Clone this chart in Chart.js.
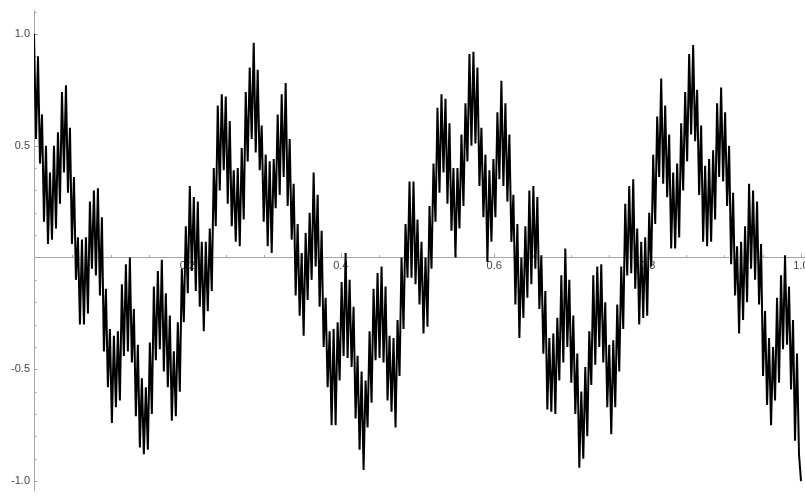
<!DOCTYPE html>
<html>
<head>
<meta charset="utf-8">
<script src="https://cdn.jsdelivr.net/npm/chart.js@4.4.1/dist/chart.umd.min.js"></script>
<style>
  html, body { margin: 0; padding: 0; background: #fff; }
  #wrap { width: 805px; height: 497px; }
</style>
</head>
<body>
<div id="wrap"><canvas id="plot"></canvas></div>
<script>
// --- Data ---
// the curve is sampled on a grid of 192 steps over [0, 1];
// yAtStep sits on x = k/192, yAtHalfStep on x = (k + 0.5)/192
const sampleCount = 192;

const yAtStep = [
    1.00, .90, .64, .50, .38, .50, .56, .74, .77, .58,
    .36, .09, .08, .09, .25, .30, .31, .18, -.14, -.32,
    -.35, -.33, -.12, -.03, .00, -.23, -.39, -.54, -.58, -.38,
    -.13, -.06, -.01, -.16, -.26, -.42, -.29, -.05, .14, .32,
    .27, .25, .07, .07, .13, .40, .68, .73, .72, .61,
    .39, .40, .49, .74, .85, .96, .84, .59, .46, .43,
    .44, .64, .73, .78, .53, .33, .15, .02, .11, .20,
    .38, .28, .12, -.18, -.33, -.32, -.29, -.11, .02, -.10,
    -.22, -.44, -.51, -.55, -.33, -.14, -.07, -.04, -.13, -.35,
    -.36, -.28, .00, .15, .34, .34, .17, .07, .00, .23,
    .42, .67, .73, .71, .60, .40, .40, .55, .69, .91,
    .92, .85, .58, .46, .39, .44, .65, .79, .69, .55,
    .28, .15, .00, .14, .30, .32, .27, .01, -.15, -.36,
    -.34, -.27, -.08, .04, -.10, -.26, -.43, -.60, -.49, -.33,
    -.08, -.04, -.03, -.20, -.39, -.37, -.21, -.04, .24, .32,
    .35, .13, .07, .09, .20, .46, .63, .80, .68, .55,
    .38, .42, .60, .74, .91, .95, .75, .59, .41, .44,
    .48, .69, .76, .65, .50, .29, .05, .07, .14, .33,
    .30, .25, .06, -.24, -.36, -.40, -.18, -.08, .01, -.13,
    -.28, -.43, -1.00
];

const yAtHalfStep = [
    .53, .42, .16, .06, .08, .13, .24, .38, .29, .06,
    -.10, -.30, -.30, -.25, -.05, -.08, -.17, -.42, -.58, -.74,
    -.67, -.64, -.44, -.42, -.47, -.71, -.85, -.88, -.86, -.70,
    -.46, -.41, -.51, -.58, -.73, -.71, -.60, -.29, -.16, -.06,
    -.15, -.22, -.33, -.24, -.15, .14, .30, .39, .24, .14,
    .07, .05, .17, .43, .53, .47, .39, .16, .05, .02,
    .22, .28, .36, .23, .08, -.17, -.26, -.35, -.19, -.10,
    -.04, -.22, -.40, -.58, -.75, -.75, -.55, -.44, -.45, -.49,
    -.72, -.86, -.95, -.76, -.65, -.46, -.45, -.47, -.64, -.69,
    -.76, -.53, -.32, -.09, -.09, -.12, -.21, -.34, -.31, -.05,
    .16, .29, .38, .24, .12, .00, .13, .23, .43, .50,
    .51, .32, .18, -.02, .07, .18, .35, .32, .25, .07,
    -.21, -.36, -.27, -.18, -.12, -.05, -.23, -.43, -.68, -.69,
    -.70, -.55, -.47, -.40, -.56, -.70, -.94, -.90, -.80, -.57,
    -.48, -.40, -.47, -.67, -.79, -.67, -.51, -.32, -.08, -.07,
    -.14, -.30, -.27, -.26, -.04, .15, .36, .33, .27, .04,
    .04, .09, .30, .43, .55, .52, .28, .07, .05, .07,
    .17, .36, .34, .23, -.03, -.17, -.34, -.28, -.20, -.05,
    -.10, -.21, -.53, -.66, -.75, -.64, -.56, -.41, -.39, -.59,
    -.82, -.88
];

const xTickValues = [0.2, 0.4, 0.6, 0.8, 1.0];
const yTickValues = [-1.0, -0.5, 0.5, 1.0];

const axisColor = '#a6a6a6';
const labelColor = '#444';

// --- Build the point list for the line ---

function buildPoints() {
    const pts = [];
    for (let k = 0; k <= sampleCount; k++) {
        pts.push({ x: k / sampleCount, y: yAtStep[k] });
        if (k < sampleCount) {
            pts.push({ x: (k + 0.5) / sampleCount, y: yAtHalfStep[k] });
        }
    }
    return pts;
}

// small Mathematica-style tick marks pointing into the plot
const axisTicks = {
    id: 'axisTicks',
    beforeDatasetsDraw(chart) {
        const { ctx, scales: { x, y } } = chart;
        const y0 = y.getPixelForValue(0);
        const x0 = x.getPixelForValue(0);
        ctx.save();
        ctx.strokeStyle = axisColor;
        ctx.lineWidth = 1;
        ctx.beginPath();
        for (let i = 1; i <= 20; i++) {
            const px = Math.round(x.getPixelForValue(i * 0.05)) + 0.5;
            const len = i % 4 === 0 ? 4 : 2.5;
            ctx.moveTo(px, y0);
            ctx.lineTo(px, y0 - len);
        }
        for (let i = -10; i <= 11; i++) {
            if (i === 0) continue;
            const py = Math.round(y.getPixelForValue(i / 10)) + 0.5;
            const len = i % 5 === 0 ? 4 : 2.5;
            ctx.moveTo(x0, py);
            ctx.lineTo(x0 + len, py);
        }
        ctx.stroke();
        ctx.restore();
    }
};

const tickFont = { family: '"Liberation Sans", Arial, sans-serif', size: 11 };

const ctx = document.getElementById('plot').getContext('2d');
new Chart(ctx, {
    type: 'line',
    data: {
        datasets: [{
            data: buildPoints(),
            borderColor: '#000',
            borderWidth: 2,
            pointRadius: 0,
            tension: 0,
            fill: false
        }]
    },
    options: {
        responsive: true,
        maintainAspectRatio: false,
        animation: false,
        layout: { padding: { top: 10, bottom: 7, left: 0, right: 0 } },
        plugins: {
            legend: { display: false },
            tooltip: { enabled: false }
        },
        scales: {
            x: {
                type: 'linear',
                min: 0,
                max: 1.0052,
                position: { y: 0 },
                grid: { display: false, drawTicks: false },
                border: { display: true, color: axisColor, width: 1 },
                afterBuildTicks: (s) => { s.ticks = xTickValues.map(v => ({ value: v })); },
                afterFit: (s) => { s.paddingLeft = 0; s.paddingRight = 0; },
                ticks: {
                    padding: 2,
                    color: labelColor,
                    font: tickFont,
                    maxRotation: 0,
                    autoSkip: false,
                    callback: (v) => v.toFixed(1)
                }
            },
            y: {
                type: 'linear',
                min: -1.04,
                max: 1.107,
                position: 'left',
                grid: { display: false, drawTicks: false },
                border: { display: true, color: axisColor, width: 1 },
                afterBuildTicks: (s) => { s.ticks = yTickValues.map(v => ({ value: v })); },
                afterFit: (s) => { s.width = 34; s.paddingTop = 0; s.paddingBottom = 0; },
                ticks: {
                    padding: 4,
                    color: labelColor,
                    font: tickFont,
                    autoSkip: false,
                    callback: (v) => v.toFixed(1)
                }
            }
        }
    },
    plugins: [axisTicks]
});
</script>
</body>
</html>
